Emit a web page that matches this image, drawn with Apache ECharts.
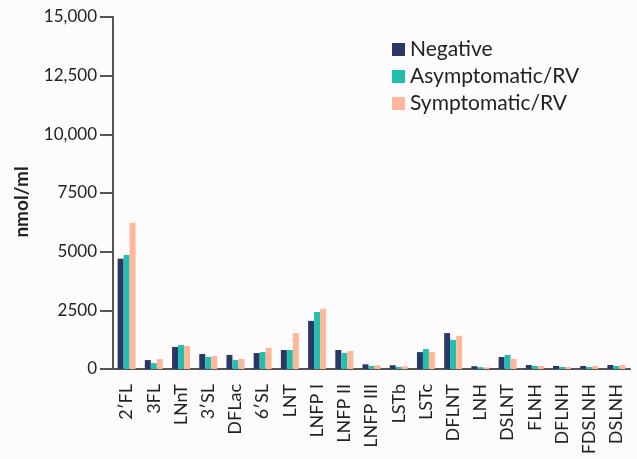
<!DOCTYPE html>
<html>
<head>
<meta charset="utf-8">
<script src="https://cdn.jsdelivr.net/npm/echarts@6/dist/echarts.min.js"></script>
<style>
html,body{margin:0;padding:0;background:#fefbfc;}
#c{width:637px;height:459px;}
</style>
</head>
<body>
<div id="c"></div>
<script>
const categories = ["2\u2032FL","3FL","LNnT","3\u2032SL","DFLac","6\u2032SL","LNT","LNFP I","LNFP II","LNFP III","LSTb","LSTc","DFLNT","LNH","DSLNT","FLNH","DFLNH","FDSLNH","DSLNH"];
const negative = [4700,380,940,640,600,680,810,2050,810,200,160,720,1530,120,510,170,130,130,170];
const asymptomatic = [4860,250,1020,510,380,720,810,2430,680,130,90,850,1240,80,600,130,85,85,130];
const symptomatic = [6230,420,980,550,430,900,1530,2560,770,160,120,720,1410,70,430,130,85,130,170];
const yTicks = [0,2500,5000,7500,10000,12500,15000];

const chart = echarts.init(document.getElementById('c'));
const axisColor = '#555555';
const font = 'Lato, "Noto Sans", sans-serif';
const mk = (name, data, color) => ({
  name, type: 'bar', data, barGap: '0%', barCategoryGap: '34%',
  itemStyle: {color}, emphasis: {disabled: true}
});
chart.setOption({
  backgroundColor: '#fefbfc',
  animation: false,
  grid: {left: 113, right: 7, top: 17, bottom: 90, containLabel: false},
  legend: {
    orient: 'vertical', left: 387, top: 34, itemWidth: 13, itemHeight: 13, itemGap: 6,
    icon: 'rect',
    textStyle: {fontFamily: font, fontSize: 21, color: '#222', lineHeight: 18},
    data: ['Negative','Asymptomatic/RV','Symptomatic/RV']
  },
  xAxis: {
    type: 'category', data: categories,
    axisLine: {lineStyle: {color: axisColor, width: 2}},
    axisTick: {alignWithLabel: true, length: 8, lineStyle: {color: axisColor, width: 2}},
    axisLabel: {rotate: 90, interval: 0, fontFamily: font, fontSize: 18, color: '#222', margin: 15}
  },
  yAxis: {
    type: 'value', min: yTicks[0], max: yTicks[yTicks.length-1], interval: 2500,
    name: 'nmol/ml', nameLocation: 'middle', nameGap: 82, nameRotate: 90,
    nameTextStyle: {fontFamily: font, fontSize: 19, fontWeight: 'bold', color: '#222', padding: [0, 18, 0, 0]},
    axisLine: {show: true, lineStyle: {color: axisColor, width: 2}},
    axisTick: {show: true, length: 13, lineStyle: {color: axisColor, width: 2}},
    splitLine: {show: false},
    axisLabel: {
      fontFamily: font, fontSize: 17, color: '#222', margin: 16,
      formatter: v => v >= 10000 ? v.toLocaleString('en-US') : String(v)
    }
  },
  series: [
    mk('Negative', negative, '#2b3867'),
    mk('Asymptomatic/RV', asymptomatic, '#22bfb0'),
    mk('Symptomatic/RV', symptomatic, '#ffb798')
  ]
});
</script>
</body>
</html>
